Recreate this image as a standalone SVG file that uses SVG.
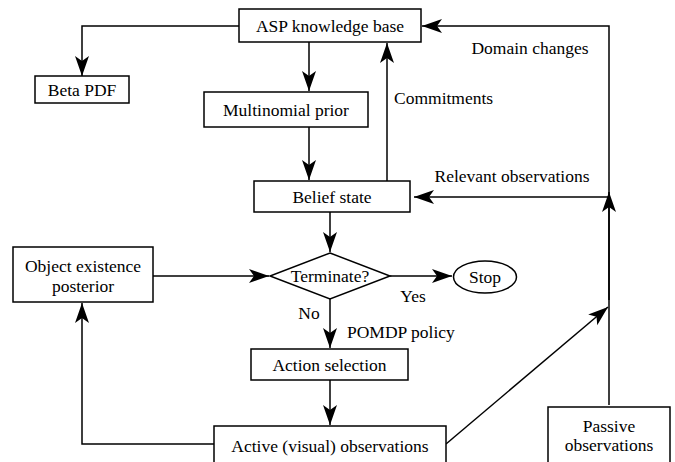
<svg xmlns="http://www.w3.org/2000/svg" width="675" height="462" viewBox="0 0 675 462">
<style>
.b{fill:#fff;stroke:#000;stroke-width:1.5}
.l{fill:none;stroke:#000;stroke-width:1.5}
.a{marker-end:url(#ah)}
text{font-size:17.5px;fill:#000}
.c{text-anchor:middle}
</style>
<defs>
<marker id="ah" markerUnits="userSpaceOnUse" markerWidth="22" markerHeight="16" refX="20" refY="8" orient="auto">
<path d="M0,1 L20,8 L0,15 L5,8 z" fill="#000"/>
</marker>
</defs>
<rect width="675" height="462" fill="#fff"/>
<g id="connectors">
<path class="l a" d="M239,26 H82 V76"/>
<path class="l a" d="M309,42 V91"/>
<path class="l a" d="M309,127 V180"/>
<path class="l a" d="M387,181 V43"/>
<path class="l a" d="M609,405 V26 H422"/>
<path class="l a" d="M609,197 H414"/>
<path class="l a" d="M609,300 V192"/>
<path class="l a" d="M330,212 V252"/>
<path class="l a" d="M153,276 H269"/>
<path class="l a" d="M390,276 H452"/>
<path class="l a" d="M330,299 V348"/>
<path class="l a" d="M330,380 V425"/>
<path class="l a" d="M214,444 H82 V303"/>
<path class="l a" d="M446,444 L608,307"/>
</g>
<g font-family="Liberation Serif, serif">
<g id="asp"><rect class="b" x="239" y="9" width="182" height="33"/><text class="c" x="330" y="31.5">ASP knowledge base</text></g>
<g id="beta"><rect class="b" x="35" y="76" width="94" height="27"/><text class="c" x="82" y="95.5">Beta PDF</text></g>
<g id="multinomial"><rect class="b" x="204" y="92" width="164" height="35"/><text class="c" x="286" y="115.5">Multinomial prior</text></g>
<g id="belief"><rect class="b" x="254" y="181" width="156" height="31"/><text class="c" x="332" y="202.5">Belief state</text></g>
<g id="posterior"><rect class="b" x="13" y="247" width="140" height="55"/><text class="c" x="83" y="272">Object existence</text><text class="c" x="83" y="292">posterior</text></g>
<g id="terminate"><polygon class="b" points="330,253 390,276 330,299 270,276"/><text class="c" x="330" y="282">Terminate?</text></g>
<g id="stop"><ellipse class="b" cx="485" cy="277" rx="31.5" ry="16"/><text class="c" x="485" y="283">Stop</text></g>
<g id="action"><rect class="b" x="251" y="349" width="157" height="31"/><text class="c" x="329.5" y="370.5">Action selection</text></g>
<g id="active"><rect class="b" x="214" y="426" width="232" height="40"/><text class="c" x="330" y="452">Active (visual) observations</text></g>
<g id="passive"><rect class="b" x="548" y="407" width="122" height="60"/><text class="c" x="609" y="432">Passive</text><text class="c" x="609" y="451">observations</text></g>
<g id="labels">
<text class="c" x="530" y="54">Domain changes</text>
<text x="394" y="104">Commitments</text>
<text class="c" x="512" y="182">Relevant observations</text>
<text class="c" x="413" y="302">Yes</text>
<text class="c" x="309" y="319">No</text>
<text x="347" y="338">POMDP policy</text>
</g>
</g>
</svg>
